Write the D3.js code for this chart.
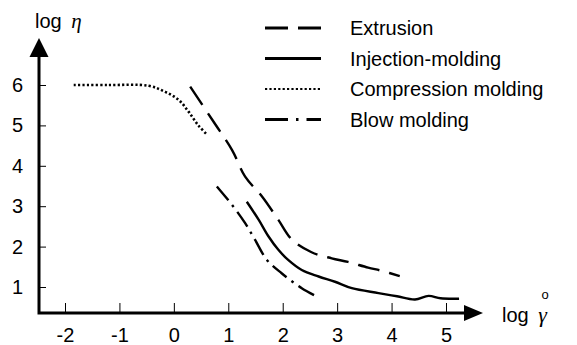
<!DOCTYPE html>
<html>
<head>
<meta charset="utf-8">
<script src="https://cdn.jsdelivr.net/npm/d3@7"></script>
<style>
  body { margin: 0; background: #fff; }
  text { font-family: "Liberation Sans", Arial, sans-serif; fill: #000; }
</style>
</head>
<body>
<div id="chart"></div>
<script>
// values (log shear rate vs log viscosity)
const xTicks = [-2, -1, 0, 1, 2, 3, 4, 5];
const yTicks = [1, 2, 3, 4, 5, 6];

const extrusionX = [0.3, 0.73, 1.07, 1.31, 1.62, 1.92, 2.17, 2.53, 2.9, 3.2, 3.57, 3.82, 4.15];
const extrusionY = [5.96, 5.09, 4.39, 3.73, 3.24, 2.66, 2.17, 1.86, 1.71, 1.62, 1.48, 1.4, 1.27];

const injectionX = [1.34, 1.56, 1.74, 1.92, 2.1, 2.35, 2.66, 2.96, 3.27, 3.76, 4.1, 4.43, 4.68, 4.9, 5.24];
const injectionY = [3.11, 2.66, 2.25, 1.92, 1.67, 1.42, 1.26, 1.13, 0.97, 0.85, 0.77, 0.69, 0.78, 0.72, 0.71];

const compressionX = [-1.84, -1.2, -0.46, -0.16, 0.09, 0.27, 0.45, 0.61];
const compressionY = [6.0, 6.0, 5.98, 5.83, 5.63, 5.34, 5.0, 4.77];

const blowX = [0.79, 1.07, 1.31, 1.49, 1.71, 1.98, 2.35, 2.63];
const blowY = [3.49, 3.03, 2.58, 2.17, 1.67, 1.34, 0.97, 0.76];

const seriesNames = ["Extrusion", "Injection-molding", "Compression molding", "Blow molding"];

const width = 577, height = 345;
const origin = { x: 39, y: 313 };

const svg = d3.select("#chart").append("svg")
    .attr("width", width).attr("height", height);

const x = d3.scaleLinear().domain([-2, 5]).range([65, 446]);
const y = d3.scaleLinear().domain([1, 6]).range([287, 85]);

// line styles per series
const dashes = ["22,10", null, "2.2,2.2", "18,6,2.5,6"];
const series = [
    d3.zip(extrusionX, extrusionY),
    d3.zip(injectionX, injectionY),
    d3.zip(compressionX, compressionY),
    d3.zip(blowX, blowY)
];

// axes: ticks only, lines + arrows drawn by hand
svg.append("g")
    .attr("transform", `translate(0,${origin.y})`)
    .call(d3.axisBottom(x).tickValues(xTicks).tickFormat(d => String(d))
        .tickSizeInner(-10).tickSizeOuter(0).tickPadding(15))
    .call(g => g.select(".domain").remove())
    .call(g => g.selectAll(".tick line").attr("stroke-width", 1))
    .call(g => g.selectAll("text").style("font-size", "20px")
        .style("font-family", "'Liberation Sans', Arial, sans-serif"));

svg.append("g")
    .attr("transform", `translate(${origin.x},0)`)
    .call(d3.axisLeft(y).tickValues(yTicks).tickFormat(d => String(d))
        .tickSizeInner(-7).tickSizeOuter(0).tickPadding(16))
    .call(g => g.select(".domain").remove())
    .call(g => g.selectAll(".tick line").attr("stroke-width", 1))
    .call(g => g.selectAll("text").style("font-size", "20px")
        .style("font-family", "'Liberation Sans', Arial, sans-serif"));

// axis lines
svg.append("path")
    .attr("d", `M${origin.x},50 V${origin.y} H470`)
    .attr("fill", "none").attr("stroke", "#000").attr("stroke-width", 3);

// arrow heads
svg.append("path")
    .attr("d", `M${origin.x},38 L${origin.x - 9.5},57 L${origin.x + 9.5},57 Z`)
    .attr("fill", "#000");
svg.append("path")
    .attr("d", `M483,${origin.y} L464,${origin.y - 8} L464,${origin.y + 8} Z`)
    .attr("fill", "#000");

// axis labels
const yLab = svg.append("text").attr("x", 35).attr("y", 28).style("font-size", "20px");
yLab.append("tspan").text("log ");
yLab.append("tspan").attr("dx", 4)
    .style("font-family", "'Liberation Serif', 'Times New Roman', serif")
    .style("font-style", "italic").style("font-size", "21px").text("η");

const xLab = svg.append("text").attr("x", 502).attr("y", 322).style("font-size", "20px");
xLab.append("tspan").text("log ");
xLab.append("tspan").attr("dx", 4)
    .style("font-family", "'Liberation Serif', 'Times New Roman', serif")
    .style("font-style", "italic").style("font-size", "22px").text("γ");
svg.append("text").attr("x", 545).attr("y", 299)
    .attr("text-anchor", "middle").style("font-size", "13px").text("o");

// curves
const line = d3.line().x(d => x(d[0])).y(d => y(d[1])).curve(d3.curveCatmullRom);
svg.selectAll(".curve")
    .data(series)
    .join("path")
    .attr("class", "curve")
    .attr("d", line)
    .attr("fill", "none")
    .attr("stroke", "#000")
    .attr("stroke-width", (d, i) => i === 2 ? 2.6 : 2.4)
    .attr("stroke-dasharray", (d, i) => dashes[i]);

// legend
const legend = svg.append("g");
const rowY = i => 28 + i * 30.5;
legend.selectAll("line")
    .data(seriesNames)
    .join("line")
    .attr("x1", 265).attr("x2", 321)
    .attr("y1", (d, i) => rowY(i)).attr("y2", (d, i) => rowY(i))
    .attr("stroke", "#000")
    .attr("stroke-width", (d, i) => i === 2 ? 2 : 3)
    .attr("stroke-dasharray", (d, i) => i === 0 ? "23,10" : i === 3 ? "23,8,2.5,8" : dashes[i]);
legend.selectAll("text")
    .data(seriesNames)
    .join("text")
    .attr("x", 350)
    .attr("y", (d, i) => rowY(i))
    .attr("dy", "0.35em")
    .style("font-size", "20px")
    .text(d => d);
</script>
</body>
</html>
